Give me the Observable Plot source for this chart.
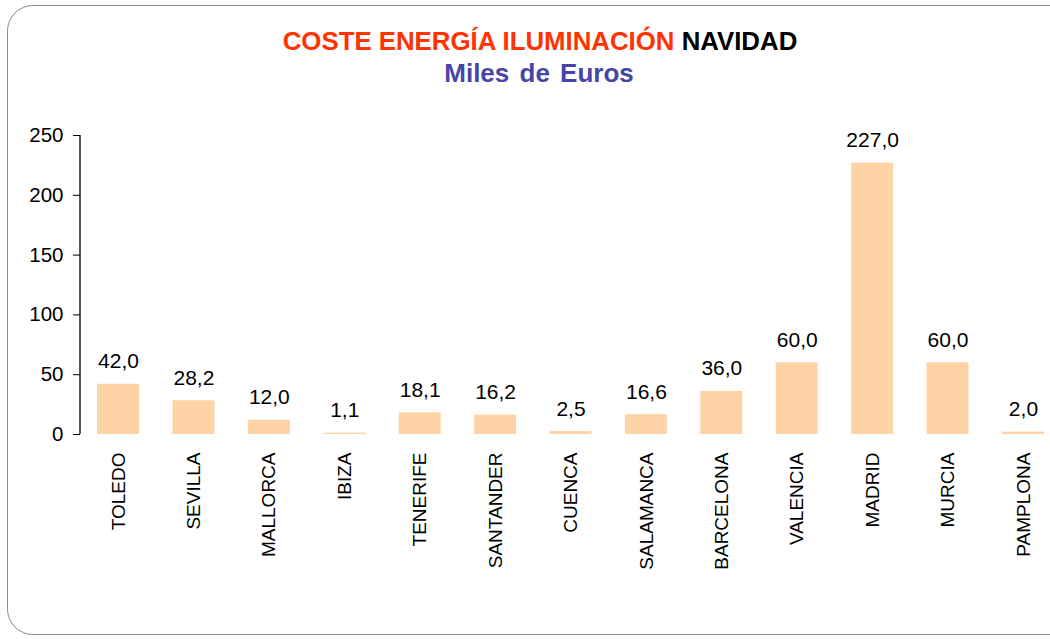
<!DOCTYPE html>
<html>
<head>
<meta charset="utf-8">
<script src="https://cdn.jsdelivr.net/npm/d3@7"></script>
<script src="https://cdn.jsdelivr.net/npm/@observablehq/plot@0.6"></script>
<style>
  html, body { margin: 0; padding: 0; background: #fff; overflow: hidden; width: 1050px; height: 639px; }
  #frame { position: absolute; left: 7px; top: 5px; width: 1070px; height: 630px; border: 1.5px solid #8c8c8c; border-radius: 26px; box-sizing: border-box; }
  #title { position: absolute; left: 0; width: 1080px; top: 26px; text-align: center; font-family: "Liberation Sans", Arial, sans-serif; font-weight: bold; font-size: 25.8px; line-height: 30px; }
  #title .red { color: #FF3300; }
  #title .blk { color: #000; }
  #sub { position: absolute; left: 0; width: 1078px; top: 58px; text-align: center; font-family: "Liberation Sans", Arial, sans-serif; font-weight: bold; font-size: 26px; line-height: 30px; color: #4646A6; word-spacing: 3px; }
  #chart { position: absolute; left: 0; top: 0; }
  #chart svg { max-width: none !important; }
</style>
</head>
<body>
<div id="frame"></div>
<div id="title"><span class="red">COSTE ENERGÍA ILUMINACIÓN</span> <span class="blk">NAVIDAD</span></div>
<div id="sub">Miles de Euros</div>
<div id="chart"></div>
<script>
const cities = ["TOLEDO","SEVILLA","MALLORCA","IBIZA","TENERIFE","SANTANDER","CUENCA","SALAMANCA","BARCELONA","VALENCIA","MADRID","MURCIA","PAMPLONA"];
const values = [42.0, 28.2, 12.0, 1.1, 18.1, 16.2, 2.5, 16.6, 36.0, 60.0, 227.0, 60.0, 2.0];
const yTicks = [0, 50, 100, 150, 200, 250];

const data = cities.map((c, i) => ({city: c, value: values[i]}));
const fmt = v => v.toFixed(1).replace(".", ",");

const chart = Plot.plot({
  width: 1062,
  height: 584,
  marginLeft: 80,
  marginRight: 1,
  marginTop: 135,
  marginBottom: 150,
  style: {fontFamily: "'Liberation Sans', Arial, sans-serif", fontSize: "19px", color: "#000", background: "transparent", overflow: "visible", maxWidth: "none"},
  x: {domain: cities, paddingInner: 0.443, paddingOuter: 0.226, round: false, label: null},
  y: {domain: [0, 250], label: null},
  marks: [
    Plot.barY(data, {x: "city", y: "value", fill: "#FED4A6"}),
    Plot.text(data, {x: "city", y: "value", text: d => fmt(d.value), lineAnchor: "bottom", dy: -16, fontSize: 21, fill: "#000"}),
    Plot.axisY({ticks: yTicks, tickSize: 7, tickPadding: 10, fontSize: 20.5, stroke: "#000", strokeOpacity: 1, label: null}),
    Plot.axisX({tickSize: 0, tickRotate: -90, tickPadding: 18, fontSize: 19, label: null})
  ]
});
document.getElementById("chart").appendChild(chart);
const svg = d3.select(chart);
const ys = chart.scale("y");
svg.append("line").attr("x1", 80).attr("x2", 80).attr("y1", ys.apply(250)).attr("y2", ys.apply(0)).attr("stroke", "#000").attr("stroke-width", 1.3);
</script>
</body>
</html>
